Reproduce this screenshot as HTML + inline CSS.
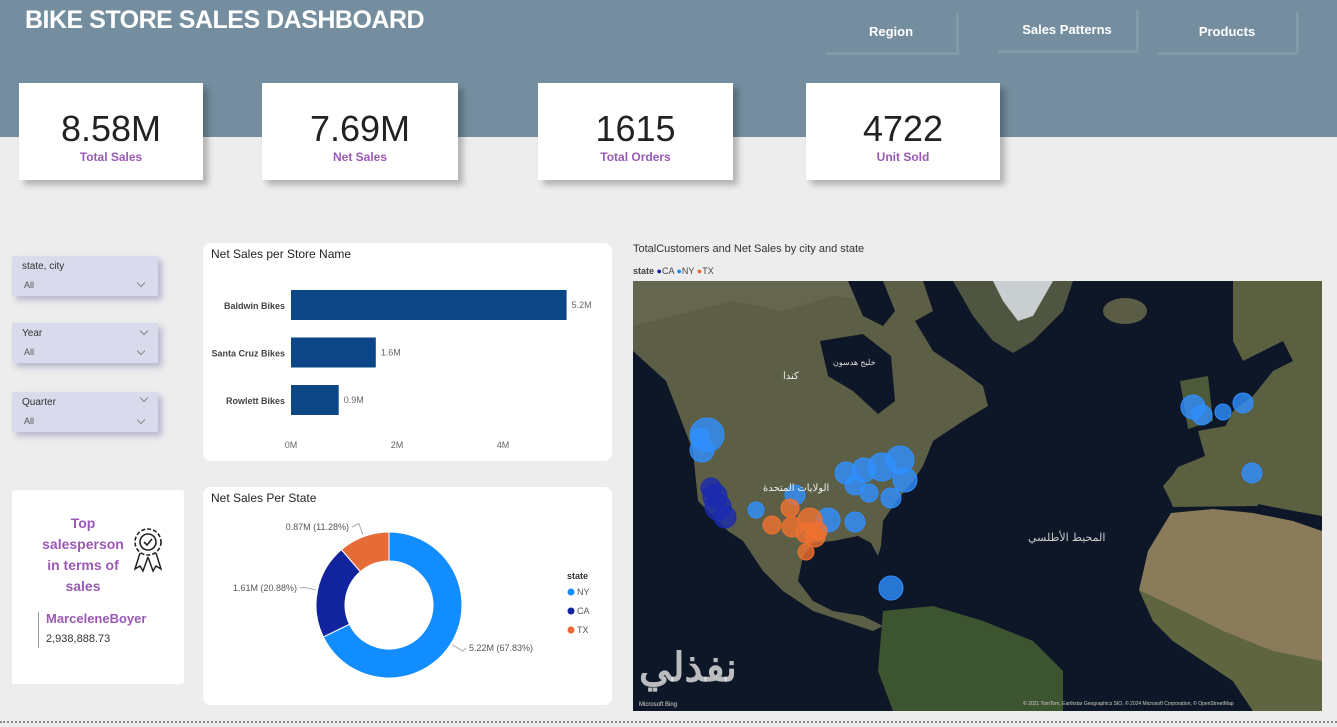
<!DOCTYPE html>
<html><head><meta charset="utf-8">
<style>
*{box-sizing:border-box;margin:0;padding:0}
body{width:1337px;height:727px;background:#ededed;font-family:"Liberation Sans","Noto Sans CJK SC",sans-serif;position:relative;overflow:hidden}
.abs{position:absolute}
.hdr{left:0;top:0;width:1337px;height:137px;background:#748ea0}
.title{left:25px;top:6px;color:#fff;font-size:25px;font-weight:bold;letter-spacing:-0.5px}
.btn{color:#fff;font-weight:bold;font-size:13px;text-align:center;line-height:40px;border-right:3px solid #8299a9;border-bottom:3px solid #8299a9;height:43px}
.kpi{background:#fff;box-shadow:5px 5px 6px rgba(0,0,0,.25);text-align:center}
.kpi .v{font-size:36px;color:#222;margin-top:26px;line-height:40px}
.kpi .l{font-size:12px;color:#9b59b6;font-weight:bold;margin-top:1px}
.sl{background:#d9daec;box-shadow:4px 4px 6px rgba(120,120,170,.45);width:146px;height:40px;font-size:10px;color:#333}
.sl .a{position:absolute;left:12px;top:24px;font-size:9px;color:#555}
.chev{position:absolute;width:6px;height:6px;border-right:1px solid #888;border-bottom:1px solid #888;transform:rotate(45deg)}
.card{background:#fff;border-radius:8px}
</style></head><body>
<div class="abs hdr"></div>
<div class="abs title">BIKE STORE SALES DASHBOARD</div>
<div class="abs btn" style="left:826px;top:12px;width:133px">Region</div>
<div class="abs btn" style="left:998px;top:10px;width:141px">Sales Patterns</div>
<div class="abs btn" style="left:1158px;top:12px;width:141px">Products</div>

<div class="abs kpi" style="left:19px;top:83px;width:184px;height:97px"><div class="v">8.58M</div><div class="l">Total Sales</div></div>
<div class="abs kpi" style="left:262px;top:83px;width:196px;height:97px"><div class="v">7.69M</div><div class="l">Net Sales</div></div>
<div class="abs kpi" style="left:538px;top:83px;width:195px;height:97px"><div class="v">1615</div><div class="l">Total Orders</div></div>
<div class="abs kpi" style="left:806px;top:83px;width:194px;height:97px"><div class="v">4722</div><div class="l">Unit Sold</div></div>

<div class="abs sl" style="left:12px;top:256px"><span class="abs" style="left:10px;top:5px">state, city</span><span class="a">All</span><span class="chev" style="left:126px;top:24px"></span></div>
<div class="abs sl" style="left:12px;top:323px"><span class="abs" style="left:10px;top:5px">Year</span><span class="chev" style="left:129px;top:5px"></span><span class="a">All</span><span class="chev" style="left:126px;top:25px"></span></div>
<div class="abs sl" style="left:12px;top:392px"><span class="abs" style="left:10px;top:5px">Quarter</span><span class="chev" style="left:129px;top:3px"></span><span class="a">All</span><span class="chev" style="left:126px;top:25px"></span></div>

<div class="abs card" style="left:203px;top:243px;width:409px;height:218px"></div>
<svg class="abs" style="left:0;top:0" width="1337" height="727" id="bar"></svg>

<div class="abs card" style="left:12px;top:490px;width:172px;height:194px;border-radius:3px">
<div class="abs" style="left:24px;top:23px;width:94px;text-align:center;color:#9b59b6;font-weight:bold;font-size:14px;line-height:21px;overflow:hidden;white-space:nowrap">Top<br>salesperson<br>in terms of<br>sales</div>
<svg class="abs" style="left:118px;top:36px" width="38" height="50">
<circle cx="18" cy="16" r="13" fill="none" stroke="#222" stroke-width="1.6" stroke-dasharray="4 2"/><circle cx="18" cy="16" r="8" fill="none" stroke="#222" stroke-width="1.6"/><path d="M14 16l3 3 5-6" fill="none" stroke="#222" stroke-width="1.6"/><path d="M10 27l-5 16 5-3 3 5 5-14M26 27l5 16-5-3-3 5-5-14" fill="none" stroke="#222" stroke-width="1.5"/></svg>
<div class="abs" style="left:26px;top:122px;width:1px;height:36px;background:#999"></div>
<div class="abs" style="left:34px;top:121px;color:#9b59b6;font-weight:bold;font-size:13px">MarceleneBoyer</div>
<div class="abs" style="left:34px;top:143px;color:#333;font-size:11px">2,938,888.73</div>
</div>

<div class="abs card" style="left:203px;top:487px;width:409px;height:218px"></div>
<svg class="abs" style="left:0;top:0" width="1337" height="727" id="donut"></svg>

<div class="abs" style="left:633px;top:243px;font-size:11px;color:#333">TotalCustomers and Net Sales by city and state</div>
<div class="abs" style="left:633px;top:266px;font-size:9px;color:#444"><b>state</b> <span style="color:#12239e">●</span>CA <span style="color:#118dff">●</span>NY <span style="color:#e66c37">●</span>TX</div>
<svg class="abs" style="left:633px;top:281px" width="689" height="430" id="map">
<rect width="689" height="430" fill="#0e1727"/>
<path d="M0 0H290L300 30 282 40 300 70 330 90 350 105 355 125 330 140 300 160 290 185 280 200 262 222 250 240 248 265 245 275 238 262 225 255 200 260 180 262 170 275 165 300 180 320 200 330 230 335 250 345 240 350 210 340 180 330 150 310 130 290 110 260 95 250 80 235 65 220 60 170 33 100 0 70Z" fill="#5c5f45"/>
<path d="M0 0H250L240 20 200 15 150 30 100 20 40 35 0 45Z" fill="#65664f"/>
<path d="M215 0L250 0 262 30 250 45 230 35Z" fill="#0e1727"/>
<path d="M187 60L230 53 258 75 262 120 245 133 220 110 195 95Z" fill="#0e1727"/>
<path d="M320 0H440L430 30 400 60 380 72 360 60 340 35Z" fill="#4f5540"/>
<path d="M360 0H420L400 35 385 40 370 20Z" fill="#c9ced0"/>
<ellipse cx="492" cy="30" rx="22" ry="13" fill="#5a5c46"/>
<path d="M600 0H689V235L650 228 620 222 590 222 570 222 540 225 530 205 545 188 575 180 590 150 600 130 620 115 640 90 660 80 650 60 630 70 610 80 600 60Z" fill="#5a6040"/>
<path d="M565 150L620 140 625 225 540 226 532 205 545 186 572 175Z" fill="#5a6040"/>
<path d="M547 100L575 95 580 140 555 148Z" fill="#4f5a3a"/>
<path d="M538 232L580 228 620 232 660 240 689 250V430H620L600 400 570 380 540 360 520 340 506 309 515 270Z" fill="#8a7b5a"/>
<path d="M506 309L520 340 540 360 570 380 600 400 620 430H689V380L640 370 590 350 550 330Z" fill="#5f6540"/>
<path d="M250 330L300 325 350 340 400 360 430 390 430 430H260L245 390Z" fill="#3d5430"/>
<g id="bubbles"></g>
<text x="6" y="425" font-size="6" fill="#ddd">Microsoft Bing</text>
<text x="390" y="424" font-size="5" fill="#ccc">© 2021 TomTom, Earthstar Geographics SIO, © 2024 Microsoft Corporation, © OpenStreetMap</text>
<text x="150" y="98" font-size="10" fill="#eee">كندا</text>
<text x="200" y="84" font-size="8" fill="#ddd">خليج هدسون</text>
<text x="130" y="210" font-size="10" fill="#eee">الولايات المتحدة</text>
<text x="395" y="260" font-size="11" fill="#ccc">المحيط الأطلسي</text>
<text x="6" y="400" font-size="40" font-weight="bold" fill="rgba(230,230,230,0.8)" font-family="Noto Sans CJK SC, WenQuanYi Zen Hei, sans-serif">نفذلي</text>
</svg>
<div class="abs" style="left:0;top:721px;width:1337px;border-top:2px dotted #888"></div>

<script>
// Bar chart data
const stores=["Baldwin Bikes","Santa Cruz Bikes","Rowlett Bikes"];
const storeSales=[5.2,1.6,0.9];
const storeLabels=["5.2M","1.6M","0.9M"];
const xTicks=[0,2,4];
const xTickLabels=["0M","2M","4M"];
// Donut data
const states=["NY","CA","TX"];
const stateSales=[5.22,1.61,0.87];
const stateLabels=["5.22M (67.83%)","1.61M (20.88%)","0.87M (11.28%)"];
const stateColors=["#118dff","#12239e","#e66c37"];
// Map bubbles
const bubbleStates=["NY","NY","NY","CA","CA","CA","CA","NY","NY","NY","NY","NY","NY","NY","NY","NY","NY","NY","NY","NY","TX","TX","TX","TX","TX","TX","TX","TX","NY","NY","NY","NY","NY"];
const bubbleX=[74,67,69,78,82,85,92,213,231,249,267,272,222,236,258,162,123,195,222,258,157,139,159,177,173,182,173,185,560,569,590,610,619];
const bubbleY=[154,156,169,207,215,226,236,192,189,186,179,199,204,212,217,214,229,239,241,307,227,244,246,239,252,256,271,250,126,134,131,122,192];
const bubbleR=[17,9,12,10,12,13,11,11,12,14,14,12,10,9,10,10,8,12,10,12,9,9,10,12,10,10,8,9,12,10,8,10,10];

const NS="http://www.w3.org/2000/svg";
function mk(p,t,a){const e=document.createElementNS(NS,t);for(const k in a)e.setAttribute(k,a[k]);p.appendChild(e);return e;}

const bar=document.getElementById('bar');
const x0=291, pxPerM=53;
const xs=v=>x0+v*pxPerM;
const ys=i=>290+i*47.5;
let t=mk(bar,'text',{x:211,y:258,'font-size':12,fill:'#252423'});t.textContent="Net Sales per Store Name";


stores.forEach((s,i)=>{
  const r=mk(bar,'rect',{x:xs(0),y:ys(i),width:xs(storeSales[i])-xs(0),height:30,fill:'#0d4686'});
  
  
  const l=mk(bar,'text',{x:285,y:ys(i)+19,'font-size':9,'font-weight':'bold','text-anchor':'end',fill:'#444'});l.textContent=s;
  
  
  const v=mk(bar,'text',{x:xs(storeSales[i])+5,y:ys(i)+18,'font-size':9,fill:'#666'});v.textContent=storeLabels[i];
  
  
});
xTicks.forEach((v,i)=>{const e=mk(bar,'text',{x:xs(v),y:448,'font-size':9,fill:'#666','text-anchor':'middle'});e.textContent=xTickLabels[i];
  
  });

const d=document.getElementById('donut');
t=mk(d,'text',{x:211,y:502,'font-size':12,fill:'#252423'});t.textContent="Net Sales Per State";


const cx=389,cy=605,R=73,ri=44;
const tot=stateSales.reduce((a,b)=>a+b,0);
let a0=-Math.PI/2;
const lblPos=[[469,651,'start'],[297,591,'end'],[349,530,'end']];
stateSales.forEach((v,i)=>{
  const a1=a0+v/tot*2*Math.PI, big=(a1-a0)>Math.PI?1:0;
  const p=(r,a)=>[cx+r*Math.cos(a),cy+r*Math.sin(a)];
  const [x1,y1]=p(R,a0),[x2,y2]=p(R,a1),[x3,y3]=p(ri,a1),[x4,y4]=p(ri,a0);
  const s=mk(d,'path',{d:`M${x1} ${y1}A${R} ${R} 0 ${big} 1 ${x2} ${y2}L${x3} ${y3}A${ri} ${ri} 0 ${big} 0 ${x4} ${y4}Z`,fill:stateColors[i],stroke:'#fff','stroke-width':1});
  
  
  const am=(a0+a1)/2,[mx,my]=p(R+2,am),[ox,oy]=p(R+14,am);
  const lp=lblPos[i];
  mk(d,'polyline',{points:`${mx},${my} ${ox},${oy} ${lp[0]+(lp[2]=='start'?-3:3)},${lp[1]-3}`,fill:'none',stroke:'#aaa','stroke-width':1});
  const l=mk(d,'text',{x:lp[0],y:lp[1],'font-size':9,fill:'#555','text-anchor':lp[2]});l.textContent=stateLabels[i];
  
  
  a0=a1;
});
t=mk(d,'text',{x:567,y:579,'font-size':9,'font-weight':'bold',fill:'#333'});t.textContent="state";


states.forEach((s,i)=>{
  const g=mk(d,'g',{});
  
  
  mk(g,'circle',{cx:571,cy:592+i*19,r:3.5,fill:stateColors[i]});
  const e=mk(g,'text',{x:577,y:595+i*19,'font-size':9,fill:'#555'});e.textContent=s;
});

const colorOf={NY:"#2f8fff",CA:"#1a2ab0",TX:"#f07030"};
const bg=document.getElementById('bubbles');
bubbleX.forEach((x,i)=>{
  const c=mk(bg,'circle',{cx:x,cy:bubbleY[i],r:bubbleR[i],fill:colorOf[bubbleStates[i]],'fill-opacity':0.8,stroke:colorOf[bubbleStates[i]],'stroke-width':1});
  
  
});
</script>
</body></html>
